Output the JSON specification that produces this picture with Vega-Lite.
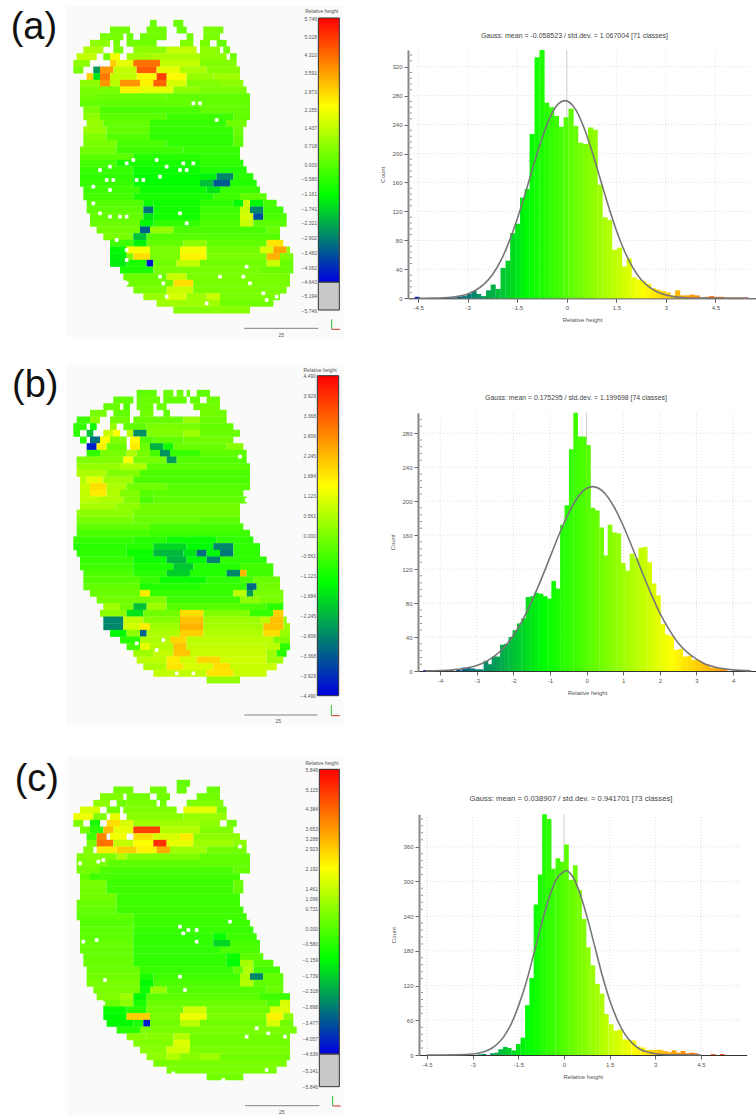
{"$schema":"https://vega.github.io/schema/vega-lite/v6.json","padding":0,"bounds":"flush","columns":2,"spacing":{"row":0,"column":63},"background":"white","config":{"view":{"stroke":null},"font":"Liberation Sans","axis":{"labelFontSize":6,"labelColor":"#555","titleFontSize":6,"titleFontWeight":"normal","titleColor":"#555","tickColor":"#666"}},
"datasets":{
"ma":[{"y":7,"a":45,"b":47,"v":0.3},{"y":7,"a":52,"b":55,"v":0.3},{"y":9,"a":33,"b":39,"v":0.4},{"y":9,"a":44,"b":50,"v":0.4},{"y":9,"a":53,"b":56,"v":0.3},{"y":9,"a":61,"b":67,"v":0.5},{"y":11,"a":30,"b":37,"v":0.5},{"y":11,"a":38,"b":40,"v":0.3},{"y":11,"a":42,"b":50,"v":0.4},{"y":11,"a":56,"b":58,"v":0.4},{"y":11,"a":61,"b":66,"v":0.5},{"y":13,"a":27,"b":33,"v":0.8},{"y":13,"a":34,"b":36,"v":0.4},{"y":13,"a":38,"b":47,"v":0.4},{"y":13,"a":54,"b":58,"v":0.6},{"y":13,"a":60,"b":63,"v":0.5},{"y":13,"a":65,"b":68,"v":0.3},{"y":15,"a":25,"b":31,"v":1.2},{"y":15,"a":34,"b":37,"v":0.5},{"y":15,"a":40,"b":50,"v":0.8},{"y":15,"a":50,"b":59,"v":1.5},{"y":15,"a":60,"b":66,"v":0.8},{"y":15,"a":67,"b":69,"v":0.4},{"y":17,"a":23,"b":29,"v":1.5},{"y":17,"a":31,"b":33,"v":0.4},{"y":17,"a":33,"b":36,"v":2.2},{"y":17,"a":38,"b":45,"v":1},{"y":17,"a":45,"b":60,"v":1.2},{"y":17,"a":60,"b":68,"v":0.8},{"y":17,"a":69,"b":71,"v":0.4},{"y":19,"a":22,"b":27,"v":0.8},{"y":19,"a":33,"b":35,"v":3},{"y":19,"a":35,"b":40,"v":2},{"y":19,"a":40,"b":48,"v":4.3},{"y":19,"a":48,"b":60,"v":1.5},{"y":19,"a":60,"b":71,"v":0.6},{"y":21,"a":22,"b":25,"v":0.5},{"y":21,"a":28,"b":30,"v":-2.5},{"y":21,"a":30,"b":34,"v":3.8},{"y":21,"a":34,"b":41,"v":1.5},{"y":21,"a":41,"b":47,"v":4.6},{"y":21,"a":47,"b":54,"v":2},{"y":21,"a":54,"b":62,"v":1.2},{"y":21,"a":62,"b":72,"v":0.7},{"y":23,"a":26,"b":28,"v":3},{"y":23,"a":28,"b":30,"v":-1.5},{"y":23,"a":30,"b":33,"v":4.2},{"y":23,"a":33,"b":41,"v":1.5},{"y":23,"a":41,"b":47,"v":2.4},{"y":23,"a":47,"b":50,"v":5},{"y":23,"a":50,"b":56,"v":2.4},{"y":23,"a":56,"b":64,"v":0.9},{"y":23,"a":64,"b":72,"v":1},{"y":25,"a":24,"b":30,"v":0.8},{"y":25,"a":30,"b":33,"v":3.8},{"y":25,"a":33,"b":36,"v":1.4},{"y":25,"a":36,"b":42,"v":3.8},{"y":25,"a":42,"b":46,"v":2.5},{"y":25,"a":46,"b":50,"v":4.5},{"y":25,"a":50,"b":56,"v":1.8},{"y":25,"a":56,"b":66,"v":0.6},{"y":25,"a":66,"b":73,"v":0.8},{"y":27,"a":24,"b":36,"v":0.5},{"y":27,"a":36,"b":42,"v":2.5},{"y":27,"a":42,"b":52,"v":2},{"y":27,"a":52,"b":60,"v":0.8},{"y":27,"a":60,"b":74,"v":0.5},{"y":29,"a":24,"b":30,"v":0.4},{"y":29,"a":30,"b":50,"v":0.3},{"y":29,"a":50,"b":75,"v":0.2},{"y":31,"a":24,"b":75,"v":0.2},{"y":33,"a":25,"b":30,"v":0.5},{"y":33,"a":30,"b":60,"v":-0.1},{"y":33,"a":60,"b":75,"v":0.2},{"y":35,"a":25,"b":30,"v":0.8},{"y":35,"a":30,"b":50,"v":0.1},{"y":35,"a":50,"b":70,"v":-0.3},{"y":35,"a":70,"b":75,"v":0.2},{"y":37,"a":26,"b":31,"v":0.9},{"y":37,"a":31,"b":45,"v":0.2},{"y":37,"a":45,"b":68,"v":-0.4},{"y":37,"a":68,"b":74,"v":0.4},{"y":39,"a":25,"b":32,"v":0.9},{"y":39,"a":32,"b":45,"v":0.2},{"y":39,"a":45,"b":70,"v":-0.4},{"y":39,"a":70,"b":73,"v":0.3},{"y":41,"a":25,"b":32,"v":0.6},{"y":41,"a":32,"b":45,"v":0},{"y":41,"a":45,"b":70,"v":-0.5},{"y":41,"a":70,"b":73,"v":0.2},{"y":43,"a":25,"b":35,"v":0.5},{"y":43,"a":35,"b":50,"v":-0.1},{"y":43,"a":50,"b":70,"v":-0.5},{"y":43,"a":70,"b":73,"v":0.1},{"y":45,"a":24,"b":35,"v":0.4},{"y":45,"a":35,"b":55,"v":-0.3},{"y":45,"a":55,"b":72,"v":-0.4},{"y":47,"a":24,"b":40,"v":0.1},{"y":47,"a":40,"b":60,"v":-0.6},{"y":47,"a":60,"b":72,"v":-0.5},{"y":49,"a":24,"b":35,"v":-0.2},{"y":49,"a":35,"b":60,"v":-0.8},{"y":49,"a":60,"b":73,"v":-0.5},{"y":51,"a":24,"b":40,"v":-0.4},{"y":51,"a":40,"b":60,"v":-1},{"y":51,"a":60,"b":74,"v":-0.7},{"y":53,"a":24,"b":40,"v":-0.5},{"y":53,"a":40,"b":60,"v":-1.1},{"y":53,"a":60,"b":65,"v":-1.3},{"y":53,"a":65,"b":70,"v":-2.8},{"y":53,"a":70,"b":76,"v":-0.6},{"y":55,"a":24,"b":40,"v":-0.4},{"y":55,"a":40,"b":60,"v":-1.1},{"y":55,"a":60,"b":64,"v":-2},{"y":55,"a":64,"b":69,"v":-3.4},{"y":55,"a":69,"b":77,"v":-0.7},{"y":57,"a":25,"b":42,"v":-0.3},{"y":57,"a":42,"b":62,"v":-1},{"y":57,"a":62,"b":66,"v":-1.5},{"y":57,"a":66,"b":78,"v":-0.4},{"y":59,"a":25,"b":40,"v":-0.2},{"y":59,"a":40,"b":64,"v":-0.8},{"y":59,"a":64,"b":72,"v":-0.3},{"y":59,"a":72,"b":80,"v":0.2},{"y":61,"a":26,"b":43,"v":0},{"y":61,"a":43,"b":46,"v":-1},{"y":61,"a":46,"b":60,"v":-0.9},{"y":61,"a":60,"b":70,"v":-0.5},{"y":61,"a":70,"b":73,"v":-1.2},{"y":61,"a":73,"b":75,"v":1.7},{"y":61,"a":75,"b":79,"v":-1.2},{"y":61,"a":79,"b":83,"v":-0.2},{"y":63,"a":26,"b":43,"v":0.1},{"y":63,"a":43,"b":46,"v":-3.1},{"y":63,"a":46,"b":60,"v":-0.9},{"y":63,"a":60,"b":72,"v":-0.3},{"y":63,"a":72,"b":75,"v":1.6},{"y":63,"a":75,"b":79,"v":-2.8},{"y":63,"a":79,"b":85,"v":-0.3},{"y":65,"a":27,"b":43,"v":0.2},{"y":65,"a":43,"b":46,"v":-1.5},{"y":65,"a":46,"b":60,"v":-0.9},{"y":65,"a":60,"b":72,"v":-0.2},{"y":65,"a":72,"b":76,"v":1.8},{"y":65,"a":76,"b":79,"v":-3.6},{"y":65,"a":79,"b":86,"v":-0.1},{"y":67,"a":27,"b":42,"v":0.3},{"y":67,"a":42,"b":46,"v":-1.2},{"y":67,"a":46,"b":60,"v":-0.5},{"y":67,"a":60,"b":72,"v":-0.1},{"y":67,"a":72,"b":76,"v":1.6},{"y":67,"a":76,"b":86,"v":0.1},{"y":69,"a":29,"b":42,"v":0.4},{"y":69,"a":42,"b":45,"v":-3.3},{"y":69,"a":45,"b":52,"v":0.9},{"y":69,"a":52,"b":80,"v":-0.1},{"y":69,"a":80,"b":84,"v":0.3},{"y":71,"a":31,"b":40,"v":0.5},{"y":71,"a":40,"b":44,"v":-2},{"y":71,"a":44,"b":84,"v":0},{"y":73,"a":33,"b":40,"v":-0.3},{"y":73,"a":40,"b":44,"v":-1.3},{"y":73,"a":44,"b":55,"v":0.2},{"y":73,"a":55,"b":62,"v":0.8},{"y":73,"a":62,"b":80,"v":0.2},{"y":73,"a":80,"b":85,"v":2.7},{"y":75,"a":33,"b":38,"v":-1.2},{"y":75,"a":38,"b":45,"v":2.2},{"y":75,"a":45,"b":54,"v":0.5},{"y":75,"a":54,"b":62,"v":2.2},{"y":75,"a":62,"b":78,"v":0.4},{"y":75,"a":78,"b":82,"v":1.8},{"y":75,"a":82,"b":86,"v":3.6},{"y":75,"a":86,"b":87,"v":0.8},{"y":77,"a":33,"b":38,"v":-1.3},{"y":77,"a":38,"b":40,"v":0.6},{"y":77,"a":40,"b":45,"v":2.8},{"y":77,"a":45,"b":54,"v":0.5},{"y":77,"a":54,"b":62,"v":2.5},{"y":77,"a":62,"b":80,"v":0.5},{"y":77,"a":80,"b":84,"v":3.4},{"y":77,"a":84,"b":88,"v":0.6},{"y":79,"a":33,"b":38,"v":-1.4},{"y":79,"a":38,"b":44,"v":-0.8},{"y":79,"a":44,"b":46,"v":-4.4},{"y":79,"a":46,"b":53,"v":0.4},{"y":79,"a":53,"b":60,"v":1.5},{"y":79,"a":60,"b":80,"v":0.4},{"y":79,"a":80,"b":84,"v":1.6},{"y":79,"a":84,"b":88,"v":0.3},{"y":81,"a":36,"b":46,"v":-0.8},{"y":81,"a":46,"b":78,"v":0.5},{"y":81,"a":78,"b":88,"v":0.3},{"y":83,"a":37,"b":50,"v":0.3},{"y":83,"a":50,"b":56,"v":1.6},{"y":83,"a":56,"b":87,"v":0.5},{"y":85,"a":38,"b":52,"v":0.4},{"y":85,"a":52,"b":58,"v":2.8},{"y":85,"a":58,"b":87,"v":0.5},{"y":87,"a":40,"b":50,"v":0.5},{"y":87,"a":50,"b":58,"v":1.6},{"y":87,"a":58,"b":86,"v":0.5},{"y":89,"a":43,"b":50,"v":0.9},{"y":89,"a":50,"b":56,"v":1.8},{"y":89,"a":56,"b":62,"v":1},{"y":89,"a":62,"b":66,"v":1.6},{"y":89,"a":66,"b":84,"v":0.5},{"y":91,"a":47,"b":66,"v":1},{"y":91,"a":66,"b":82,"v":0.4},{"y":93,"a":52,"b":75,"v":0.7}],
"ha":[{"x":-4.53,"n":2},{"x":-3.7,"n":1},{"x":-3.55,"n":1},{"x":-3.4,"n":1},{"x":-3.25,"n":2},{"x":-3.11,"n":3},{"x":-2.96,"n":6},{"x":-2.81,"n":10},{"x":-2.67,"n":6},{"x":-2.52,"n":3},{"x":-2.37,"n":11},{"x":-2.23,"n":19},{"x":-2.08,"n":13},{"x":-1.93,"n":42},{"x":-1.78,"n":52},{"x":-1.64,"n":90},{"x":-1.49,"n":103},{"x":-1.34,"n":139},{"x":-1.2,"n":151},{"x":-1.05,"n":227},{"x":-0.9,"n":333},{"x":-0.75,"n":343},{"x":-0.61,"n":270},{"x":-0.46,"n":264},{"x":-0.31,"n":252},{"x":-0.17,"n":237},{"x":-0.02,"n":250},{"x":0.13,"n":262},{"x":0.27,"n":238},{"x":0.42,"n":215},{"x":0.57,"n":213},{"x":0.72,"n":236},{"x":0.86,"n":233},{"x":1.01,"n":157},{"x":1.16,"n":112},{"x":1.3,"n":108},{"x":1.45,"n":67},{"x":1.6,"n":70},{"x":1.75,"n":44},{"x":1.89,"n":55},{"x":2.04,"n":29},{"x":2.19,"n":26},{"x":2.33,"n":24},{"x":2.48,"n":20},{"x":2.63,"n":14},{"x":2.77,"n":12},{"x":2.92,"n":10},{"x":3.07,"n":8},{"x":3.22,"n":4},{"x":3.36,"n":11},{"x":3.51,"n":4},{"x":3.66,"n":4},{"x":3.8,"n":5},{"x":3.95,"n":4},{"x":4.1,"n":1},{"x":4.25,"n":2},{"x":4.39,"n":3},{"x":4.54,"n":2},{"x":4.69,"n":2},{"x":4.83,"n":1},{"x":4.98,"n":1},{"x":5.13,"n":1},{"x":5.27,"n":1},{"x":5.42,"n":1}],
"ga":[{"x":-4.5,"n":0.05},{"x":-4,"n":0.3},{"x":-3.5,"n":1.5},{"x":-3,"n":6},{"x":-2.75,"n":11.4},{"x":-2.5,"n":20},{"x":-2.25,"n":33},{"x":-2,"n":52},{"x":-1.75,"n":78},{"x":-1.5,"n":110},{"x":-1.25,"n":146},{"x":-1,"n":185},{"x":-0.75,"n":221},{"x":-0.5,"n":251},{"x":-0.25,"n":269},{"x":-0.06,"n":273},{"x":0.25,"n":262},{"x":0.5,"n":238},{"x":0.75,"n":205},{"x":1,"n":167},{"x":1.25,"n":129},{"x":1.5,"n":94},{"x":1.75,"n":65},{"x":2,"n":42.5},{"x":2.25,"n":26},{"x":2.5,"n":15.4},{"x":2.75,"n":8.6},{"x":3,"n":4.5},{"x":3.5,"n":1},{"x":4,"n":0.2},{"x":5.5,"n":0}],
"hb":[{"x":-4.4,"n":1},{"x":-3.7,"n":1},{"x":-3.5,"n":2},{"x":-3.35,"n":4},{"x":-3.23,"n":3.5},{"x":-3.11,"n":3},{"x":-3,"n":2},{"x":-2.88,"n":2},{"x":-2.75,"n":12},{"x":-2.65,"n":8},{"x":-2.53,"n":17},{"x":-2.42,"n":17},{"x":-2.3,"n":31},{"x":-2.19,"n":32},{"x":-2.07,"n":40},{"x":-1.96,"n":48},{"x":-1.84,"n":56},{"x":-1.72,"n":62},{"x":-1.6,"n":87},{"x":-1.48,"n":88},{"x":-1.37,"n":92},{"x":-1.25,"n":91},{"x":-1.13,"n":88},{"x":-1.01,"n":85},{"x":-0.9,"n":106},{"x":-0.78,"n":97},{"x":-0.66,"n":172},{"x":-0.54,"n":195},{"x":-0.42,"n":261},{"x":-0.3,"n":304},{"x":-0.18,"n":276},{"x":-0.07,"n":276},{"x":0.05,"n":266},{"x":0.17,"n":192},{"x":0.29,"n":189},{"x":0.41,"n":169},{"x":0.52,"n":136},{"x":0.64,"n":172},{"x":0.76,"n":163},{"x":0.88,"n":162},{"x":1,"n":127},{"x":1.12,"n":118},{"x":1.24,"n":138},{"x":1.36,"n":133},{"x":1.48,"n":145},{"x":1.6,"n":146},{"x":1.72,"n":128},{"x":1.84,"n":103},{"x":1.96,"n":89},{"x":2.08,"n":55},{"x":2.2,"n":43},{"x":2.32,"n":41},{"x":2.45,"n":25},{"x":2.57,"n":26},{"x":2.69,"n":17},{"x":2.81,"n":18},{"x":2.93,"n":13},{"x":3.05,"n":13},{"x":3.17,"n":10},{"x":3.3,"n":8},{"x":3.42,"n":4},{"x":3.54,"n":4},{"x":3.66,"n":3},{"x":3.78,"n":2.5}],
"gb":[{"x":-4.4,"n":0.15},{"x":-4,"n":0.5},{"x":-3.5,"n":2},{"x":-3,"n":6.5},{"x":-2.75,"n":11},{"x":-2.5,"n":18},{"x":-2.25,"n":28},{"x":-2,"n":42},{"x":-1.75,"n":60},{"x":-1.5,"n":82},{"x":-1.25,"n":107},{"x":-1,"n":134},{"x":-0.75,"n":161},{"x":-0.5,"n":185},{"x":-0.25,"n":204},{"x":0,"n":215},{"x":0.175,"n":217},{"x":0.5,"n":209},{"x":0.75,"n":193},{"x":1,"n":171},{"x":1.25,"n":145},{"x":1.5,"n":118},{"x":1.75,"n":92},{"x":2,"n":68},{"x":2.25,"n":49},{"x":2.5,"n":33},{"x":2.75,"n":22},{"x":3,"n":14},{"x":3.25,"n":8},{"x":3.5,"n":4.7},{"x":3.75,"n":2.6},{"x":4,"n":1.3},{"x":4.49,"n":0.2}],
"hc":[{"x":-2.77,"n":1},{"x":-2.63,"n":2},{"x":-2.35,"n":3},{"x":-2.2,"n":4},{"x":-2.08,"n":10},{"x":-1.93,"n":14},{"x":-1.8,"n":12},{"x":-1.65,"n":8},{"x":-1.5,"n":19},{"x":-1.35,"n":30},{"x":-1.2,"n":86},{"x":-1.06,"n":133},{"x":-0.92,"n":260},{"x":-0.78,"n":312},{"x":-0.64,"n":416},{"x":-0.49,"n":408},{"x":-0.35,"n":322},{"x":-0.2,"n":340},{"x":-0.06,"n":334},{"x":0.08,"n":364},{"x":0.22,"n":303},{"x":0.37,"n":328},{"x":0.51,"n":285},{"x":0.66,"n":235},{"x":0.8,"n":186},{"x":0.95,"n":155},{"x":1.1,"n":123},{"x":1.25,"n":106},{"x":1.39,"n":71},{"x":1.55,"n":53},{"x":1.7,"n":42},{"x":1.85,"n":44},{"x":2,"n":27},{"x":2.14,"n":26},{"x":2.3,"n":25},{"x":2.44,"n":15},{"x":2.6,"n":13},{"x":2.75,"n":9},{"x":2.9,"n":9},{"x":3.04,"n":9},{"x":3.18,"n":9},{"x":3.33,"n":7},{"x":3.47,"n":5},{"x":3.62,"n":8},{"x":3.76,"n":4},{"x":3.91,"n":7},{"x":4.05,"n":3},{"x":4.2,"n":4},{"x":4.34,"n":3},{"x":4.9,"n":1.5},{"x":5.2,"n":1.5}],
"gc":[{"x":-4.5,"n":0},{"x":-3.5,"n":0.3},{"x":-3,"n":1.7},{"x":-2.75,"n":3.9},{"x":-2.5,"n":8.3},{"x":-2.25,"n":16.4},{"x":-2,"n":30},{"x":-1.75,"n":52},{"x":-1.5,"n":84},{"x":-1.25,"n":124},{"x":-1,"n":173},{"x":-0.75,"n":224},{"x":-0.5,"n":270},{"x":-0.25,"n":304},{"x":0,"n":317},{"x":0.06,"n":319},{"x":0.25,"n":311},{"x":0.5,"n":283},{"x":0.75,"n":240},{"x":1,"n":190},{"x":1.25,"n":139},{"x":1.5,"n":95},{"x":1.75,"n":61},{"x":2,"n":36},{"x":2.25,"n":20},{"x":2.5,"n":10},{"x":2.75,"n":5},{"x":3,"n":2.2},{"x":3.5,"n":0.4},{"x":4.5,"n":0}],
"mb":[{"y":10,"a":41,"b":47,"v":0.2},{"y":10,"a":49,"b":52,"v":0.3},{"y":10,"a":53,"b":55,"v":0.3},{"y":10,"a":56,"b":57,"v":0.2},{"y":10,"a":59,"b":63,"v":0.2},{"y":12,"a":34,"b":40,"v":0.2},{"y":12,"a":41,"b":48,"v":0.3},{"y":12,"a":49,"b":56,"v":0.2},{"y":12,"a":57,"b":60,"v":0.2},{"y":12,"a":62,"b":66,"v":0.3},{"y":14,"a":31,"b":36,"v":0.3},{"y":14,"a":37,"b":39,"v":0},{"y":14,"a":41,"b":46,"v":0.3},{"y":14,"a":47,"b":50,"v":0.3},{"y":14,"a":58,"b":60,"v":0.3},{"y":14,"a":60,"b":66,"v":0.4},{"y":16,"a":27,"b":32,"v":0.5},{"y":16,"a":34,"b":39,"v":0.2},{"y":16,"a":42,"b":46,"v":0.4},{"y":16,"a":49,"b":51,"v":0.2},{"y":16,"a":60,"b":68,"v":0.4},{"y":18,"a":23,"b":27,"v":-0.3},{"y":18,"a":27,"b":30,"v":0.8},{"y":18,"a":33,"b":39,"v":0.4},{"y":18,"a":40,"b":55,"v":0.3},{"y":18,"a":55,"b":60,"v":0.9},{"y":18,"a":60,"b":68,"v":0.3},{"y":20,"a":22,"b":26,"v":-0.4},{"y":20,"a":27,"b":29,"v":-1},{"y":20,"a":33,"b":35,"v":0.9},{"y":20,"a":37,"b":44,"v":0.2},{"y":20,"a":44,"b":60,"v":0.5},{"y":20,"a":60,"b":70,"v":0.2},{"y":22,"a":22,"b":24,"v":-0.5},{"y":22,"a":26,"b":28,"v":-2},{"y":22,"a":31,"b":34,"v":1.6},{"y":22,"a":34,"b":36,"v":2.3},{"y":22,"a":38,"b":40,"v":1.4},{"y":22,"a":40,"b":44,"v":-2.7},{"y":22,"a":44,"b":55,"v":0.6},{"y":22,"a":55,"b":60,"v":1},{"y":22,"a":60,"b":72,"v":0.3},{"y":24,"a":24,"b":26,"v":-0.5},{"y":24,"a":27,"b":30,"v":-3.1},{"y":24,"a":30,"b":33,"v":2.4},{"y":24,"a":33,"b":38,"v":0.6},{"y":24,"a":39,"b":42,"v":2.4},{"y":24,"a":42,"b":46,"v":0},{"y":24,"a":46,"b":55,"v":0.2},{"y":24,"a":55,"b":70,"v":0.4},{"y":26,"a":26,"b":29,"v":-4.3},{"y":26,"a":29,"b":32,"v":2.5},{"y":26,"a":32,"b":38,"v":0.3},{"y":26,"a":39,"b":42,"v":2.6},{"y":26,"a":42,"b":45,"v":0.3},{"y":26,"a":45,"b":49,"v":-2.2},{"y":26,"a":49,"b":52,"v":-1},{"y":26,"a":52,"b":68,"v":0.3},{"y":26,"a":68,"b":73,"v":0.7},{"y":28,"a":26,"b":30,"v":-0.5},{"y":28,"a":30,"b":38,"v":0.5},{"y":28,"a":38,"b":41,"v":1.2},{"y":28,"a":41,"b":45,"v":0.5},{"y":28,"a":45,"b":48,"v":-0.2},{"y":28,"a":48,"b":51,"v":-2.6},{"y":28,"a":51,"b":60,"v":-0.4},{"y":28,"a":60,"b":74,"v":0.1},{"y":30,"a":23,"b":37,"v":0.6},{"y":30,"a":37,"b":40,"v":2.3},{"y":30,"a":40,"b":50,"v":0.5},{"y":30,"a":50,"b":53,"v":-2.5},{"y":30,"a":53,"b":74,"v":0},{"y":32,"a":23,"b":36,"v":0.9},{"y":32,"a":36,"b":44,"v":1.2},{"y":32,"a":44,"b":75,"v":0.1},{"y":34,"a":23,"b":32,"v":1.2},{"y":34,"a":32,"b":42,"v":0.6},{"y":34,"a":42,"b":75,"v":-0.1},{"y":36,"a":24,"b":26,"v":1.4},{"y":36,"a":26,"b":31,"v":2},{"y":36,"a":31,"b":40,"v":1},{"y":36,"a":40,"b":75,"v":-0.1},{"y":38,"a":24,"b":27,"v":1.6},{"y":38,"a":27,"b":32,"v":2.8},{"y":38,"a":32,"b":38,"v":1.2},{"y":38,"a":38,"b":50,"v":0.4},{"y":38,"a":50,"b":75,"v":0},{"y":40,"a":24,"b":27,"v":1.5},{"y":40,"a":27,"b":32,"v":2.6},{"y":40,"a":32,"b":36,"v":1.3},{"y":40,"a":36,"b":42,"v":0.6},{"y":40,"a":42,"b":46,"v":0},{"y":40,"a":46,"b":73,"v":0.1},{"y":42,"a":24,"b":30,"v":1.4},{"y":42,"a":30,"b":37,"v":1.2},{"y":42,"a":37,"b":42,"v":0.6},{"y":42,"a":42,"b":46,"v":-0.1},{"y":42,"a":46,"b":74,"v":0.2},{"y":44,"a":24,"b":35,"v":1.1},{"y":44,"a":35,"b":42,"v":0.8},{"y":44,"a":42,"b":72,"v":0.4},{"y":46,"a":23,"b":40,"v":0.8},{"y":46,"a":40,"b":72,"v":0.4},{"y":48,"a":23,"b":40,"v":0.5},{"y":48,"a":40,"b":60,"v":0.3},{"y":48,"a":60,"b":72,"v":0.1},{"y":50,"a":23,"b":45,"v":0.2},{"y":50,"a":45,"b":73,"v":-0.1},{"y":52,"a":23,"b":45,"v":-0.1},{"y":52,"a":45,"b":75,"v":-0.3},{"y":54,"a":22,"b":40,"v":-0.4},{"y":54,"a":40,"b":50,"v":-0.6},{"y":54,"a":50,"b":65,"v":-1},{"y":54,"a":65,"b":76,"v":-0.5},{"y":56,"a":22,"b":38,"v":-0.6},{"y":56,"a":38,"b":46,"v":-0.7},{"y":56,"a":46,"b":56,"v":-1.7},{"y":56,"a":56,"b":64,"v":-1.2},{"y":56,"a":64,"b":70,"v":-2.8},{"y":56,"a":70,"b":78,"v":-0.5},{"y":58,"a":23,"b":38,"v":-0.5},{"y":58,"a":38,"b":46,"v":-1},{"y":58,"a":46,"b":55,"v":-2.1},{"y":58,"a":55,"b":59,"v":-1.5},{"y":58,"a":59,"b":62,"v":-3.1},{"y":58,"a":62,"b":66,"v":-1.2},{"y":58,"a":66,"b":70,"v":-3},{"y":58,"a":70,"b":78,"v":-0.5},{"y":60,"a":24,"b":40,"v":-0.4},{"y":60,"a":40,"b":50,"v":-1},{"y":60,"a":50,"b":56,"v":-2.2},{"y":60,"a":56,"b":62,"v":-1.2},{"y":60,"a":62,"b":66,"v":-2.8},{"y":60,"a":66,"b":80,"v":-0.5},{"y":62,"a":24,"b":40,"v":-0.3},{"y":62,"a":40,"b":52,"v":-0.8},{"y":62,"a":52,"b":58,"v":-1.9},{"y":62,"a":58,"b":72,"v":-0.7},{"y":62,"a":72,"b":82,"v":-0.2},{"y":64,"a":25,"b":40,"v":-0.1},{"y":64,"a":40,"b":50,"v":-0.6},{"y":64,"a":50,"b":57,"v":-1.8},{"y":64,"a":57,"b":68,"v":-0.7},{"y":64,"a":68,"b":72,"v":-2.8},{"y":64,"a":72,"b":74,"v":3.3},{"y":64,"a":74,"b":82,"v":-0.3},{"y":66,"a":25,"b":42,"v":0},{"y":66,"a":42,"b":48,"v":-0.4},{"y":66,"a":48,"b":62,"v":-1},{"y":66,"a":62,"b":72,"v":-0.5},{"y":66,"a":72,"b":76,"v":-0.2},{"y":66,"a":76,"b":84,"v":0.3},{"y":68,"a":25,"b":42,"v":0.2},{"y":68,"a":42,"b":45,"v":-0.8},{"y":68,"a":45,"b":60,"v":-0.7},{"y":68,"a":60,"b":72,"v":-0.4},{"y":68,"a":72,"b":74,"v":-0.5},{"y":68,"a":74,"b":77,"v":-3.2},{"y":68,"a":77,"b":84,"v":0.4},{"y":70,"a":27,"b":42,"v":0.3},{"y":70,"a":42,"b":45,"v":2.6},{"y":70,"a":45,"b":70,"v":-0.4},{"y":70,"a":70,"b":74,"v":1.4},{"y":70,"a":74,"b":76,"v":-2.5},{"y":70,"a":76,"b":85,"v":0.5},{"y":72,"a":29,"b":42,"v":0.4},{"y":72,"a":42,"b":45,"v":0.4},{"y":72,"a":45,"b":50,"v":0.6},{"y":72,"a":50,"b":72,"v":-0.3},{"y":72,"a":72,"b":78,"v":0.8},{"y":72,"a":78,"b":85,"v":0.5},{"y":74,"a":31,"b":36,"v":1},{"y":74,"a":36,"b":40,"v":0.4},{"y":74,"a":40,"b":44,"v":-2},{"y":74,"a":44,"b":50,"v":1},{"y":74,"a":50,"b":72,"v":0},{"y":74,"a":72,"b":80,"v":-0.1},{"y":74,"a":80,"b":85,"v":-0.6},{"y":76,"a":30,"b":38,"v":0.8},{"y":76,"a":38,"b":43,"v":-1.5},{"y":76,"a":43,"b":54,"v":0.4},{"y":76,"a":54,"b":61,"v":2.8},{"y":76,"a":61,"b":75,"v":0.6},{"y":76,"a":75,"b":82,"v":-0.4},{"y":76,"a":82,"b":85,"v":3},{"y":78,"a":31,"b":37,"v":-2.8},{"y":78,"a":37,"b":43,"v":1.5},{"y":78,"a":43,"b":54,"v":0.7},{"y":78,"a":54,"b":61,"v":3.2},{"y":78,"a":61,"b":78,"v":1},{"y":78,"a":78,"b":81,"v":1.4},{"y":78,"a":81,"b":85,"v":3.2},{"y":78,"a":85,"b":86,"v":0.9},{"y":80,"a":31,"b":37,"v":-2.8},{"y":80,"a":37,"b":42,"v":1.7},{"y":80,"a":42,"b":45,"v":2.6},{"y":80,"a":45,"b":54,"v":1},{"y":80,"a":54,"b":61,"v":3.4},{"y":80,"a":61,"b":79,"v":1.1},{"y":80,"a":79,"b":85,"v":3.2},{"y":80,"a":85,"b":87,"v":1},{"y":82,"a":33,"b":38,"v":-1.2},{"y":82,"a":38,"b":42,"v":0.8},{"y":82,"a":42,"b":44,"v":-3.3},{"y":82,"a":44,"b":54,"v":1.2},{"y":82,"a":54,"b":61,"v":3},{"y":82,"a":61,"b":79,"v":1.3},{"y":82,"a":79,"b":84,"v":2.8},{"y":82,"a":84,"b":87,"v":0.9},{"y":84,"a":36,"b":42,"v":-0.6},{"y":84,"a":42,"b":51,"v":1.2},{"y":84,"a":51,"b":56,"v":2.9},{"y":84,"a":56,"b":82,"v":1.4},{"y":84,"a":82,"b":87,"v":0.6},{"y":86,"a":38,"b":42,"v":-0.2},{"y":86,"a":42,"b":45,"v":2},{"y":86,"a":45,"b":52,"v":1.3},{"y":86,"a":52,"b":56,"v":3.2},{"y":86,"a":56,"b":80,"v":1.5},{"y":86,"a":80,"b":84,"v":1.4},{"y":86,"a":84,"b":87,"v":-0.5},{"y":88,"a":40,"b":46,"v":1},{"y":88,"a":46,"b":52,"v":1.5},{"y":88,"a":52,"b":57,"v":3.1},{"y":88,"a":57,"b":80,"v":1.6},{"y":88,"a":80,"b":83,"v":1},{"y":88,"a":83,"b":86,"v":-0.6},{"y":90,"a":41,"b":50,"v":1.4},{"y":90,"a":50,"b":54,"v":2.6},{"y":90,"a":54,"b":59,"v":1.7},{"y":90,"a":59,"b":66,"v":2.9},{"y":90,"a":66,"b":80,"v":1.7},{"y":90,"a":80,"b":85,"v":1},{"y":92,"a":43,"b":50,"v":1.2},{"y":92,"a":50,"b":55,"v":2.7},{"y":92,"a":55,"b":64,"v":1.8},{"y":92,"a":64,"b":69,"v":2.8},{"y":92,"a":69,"b":83,"v":1.6},{"y":94,"a":46,"b":62,"v":1.5},{"y":94,"a":62,"b":70,"v":2.7},{"y":94,"a":70,"b":80,"v":1.6},{"y":96,"a":62,"b":72,"v":0.9}],
"mc":[{"y":10,"a":53,"b":57,"v":0.2},{"y":12,"a":34,"b":40,"v":0.4},{"y":12,"a":45,"b":50,"v":0.4},{"y":12,"a":53,"b":56,"v":0.3},{"y":12,"a":62,"b":66,"v":0.3},{"y":14,"a":30,"b":37,"v":0.6},{"y":14,"a":38,"b":45,"v":0.4},{"y":14,"a":47,"b":51,"v":0.4},{"y":14,"a":59,"b":66,"v":0.4},{"y":16,"a":28,"b":33,"v":0.8},{"y":16,"a":35,"b":38,"v":0.4},{"y":16,"a":38,"b":47,"v":0.5},{"y":16,"a":48,"b":50,"v":0.4},{"y":16,"a":56,"b":67,"v":0.6},{"y":18,"a":24,"b":30,"v":1.8},{"y":18,"a":32,"b":36,"v":0.4},{"y":18,"a":37,"b":53,"v":0.6},{"y":18,"a":55,"b":65,"v":2},{"y":18,"a":65,"b":68,"v":0.5},{"y":20,"a":22,"b":28,"v":2.1},{"y":20,"a":28,"b":32,"v":0.6},{"y":20,"a":33,"b":36,"v":2},{"y":20,"a":38,"b":55,"v":0.7},{"y":20,"a":55,"b":68,"v":0.9},{"y":22,"a":22,"b":25,"v":0.6},{"y":22,"a":27,"b":30,"v":-0.8},{"y":22,"a":32,"b":36,"v":2.8},{"y":22,"a":36,"b":40,"v":1.8},{"y":22,"a":40,"b":60,"v":1},{"y":22,"a":60,"b":66,"v":0.8},{"y":22,"a":68,"b":71,"v":0.4},{"y":24,"a":24,"b":27,"v":0.5},{"y":24,"a":27,"b":31,"v":-0.5},{"y":24,"a":31,"b":34,"v":3.3},{"y":24,"a":34,"b":40,"v":2},{"y":24,"a":40,"b":48,"v":5},{"y":24,"a":48,"b":60,"v":1.3},{"y":24,"a":60,"b":70,"v":0.6},{"y":26,"a":26,"b":29,"v":-0.3},{"y":26,"a":29,"b":32,"v":4},{"y":26,"a":33,"b":38,"v":2.2},{"y":26,"a":40,"b":46,"v":2.8},{"y":26,"a":46,"b":54,"v":1.8},{"y":26,"a":54,"b":58,"v":2.6},{"y":26,"a":58,"b":72,"v":0.8},{"y":28,"a":26,"b":29,"v":0.5},{"y":28,"a":29,"b":34,"v":4.3},{"y":28,"a":34,"b":40,"v":1.5},{"y":28,"a":40,"b":46,"v":2.3},{"y":28,"a":46,"b":50,"v":5.2},{"y":28,"a":50,"b":58,"v":2},{"y":28,"a":58,"b":70,"v":1},{"y":28,"a":70,"b":74,"v":0.8},{"y":30,"a":25,"b":28,"v":0.6},{"y":30,"a":29,"b":35,"v":2.6},{"y":30,"a":35,"b":41,"v":3},{"y":30,"a":41,"b":47,"v":2.5},{"y":30,"a":47,"b":51,"v":3.5},{"y":30,"a":51,"b":62,"v":1},{"y":30,"a":62,"b":74,"v":0.4},{"y":32,"a":23,"b":35,"v":0.6},{"y":32,"a":35,"b":38,"v":1.2},{"y":32,"a":38,"b":60,"v":0.6},{"y":32,"a":60,"b":75,"v":0.2},{"y":34,"a":23,"b":32,"v":0.5},{"y":34,"a":32,"b":60,"v":0.1},{"y":34,"a":60,"b":75,"v":0.2},{"y":36,"a":23,"b":30,"v":0.4},{"y":36,"a":30,"b":70,"v":-0.1},{"y":36,"a":70,"b":75,"v":0.2},{"y":38,"a":24,"b":27,"v":0.2},{"y":38,"a":27,"b":30,"v":-0.3},{"y":38,"a":30,"b":72,"v":-0.2},{"y":40,"a":24,"b":32,"v":0.5},{"y":40,"a":32,"b":70,"v":-0.3},{"y":40,"a":70,"b":73,"v":0.3},{"y":42,"a":24,"b":32,"v":0.4},{"y":42,"a":32,"b":70,"v":-0.3},{"y":42,"a":70,"b":73,"v":0.2},{"y":44,"a":24,"b":35,"v":0.4},{"y":44,"a":35,"b":72,"v":-0.3},{"y":46,"a":23,"b":35,"v":0.3},{"y":46,"a":35,"b":72,"v":-0.3},{"y":48,"a":23,"b":35,"v":0.2},{"y":48,"a":35,"b":73,"v":-0.3},{"y":50,"a":23,"b":40,"v":0.1},{"y":50,"a":40,"b":74,"v":-0.3},{"y":52,"a":24,"b":40,"v":0},{"y":52,"a":40,"b":75,"v":-0.3},{"y":54,"a":24,"b":40,"v":0.1},{"y":54,"a":40,"b":76,"v":-0.4},{"y":56,"a":24,"b":40,"v":0.1},{"y":56,"a":40,"b":64,"v":-0.5},{"y":56,"a":64,"b":68,"v":-1.1},{"y":56,"a":68,"b":77,"v":-0.3},{"y":58,"a":24,"b":40,"v":0.2},{"y":58,"a":40,"b":64,"v":-0.5},{"y":58,"a":64,"b":69,"v":-1.7},{"y":58,"a":69,"b":78,"v":-0.2},{"y":60,"a":24,"b":40,"v":0.2},{"y":60,"a":40,"b":66,"v":-0.5},{"y":60,"a":66,"b":78,"v":-0.1},{"y":62,"a":25,"b":40,"v":0.2},{"y":62,"a":40,"b":68,"v":-0.5},{"y":62,"a":68,"b":72,"v":-1},{"y":62,"a":72,"b":79,"v":0.1},{"y":64,"a":25,"b":40,"v":0.3},{"y":64,"a":40,"b":68,"v":-0.5},{"y":64,"a":68,"b":72,"v":-1.2},{"y":64,"a":72,"b":76,"v":1.1},{"y":64,"a":76,"b":82,"v":0},{"y":66,"a":26,"b":42,"v":0.3},{"y":66,"a":42,"b":70,"v":-0.4},{"y":66,"a":70,"b":73,"v":0.2},{"y":66,"a":73,"b":76,"v":1.3},{"y":66,"a":76,"b":84,"v":-0.2},{"y":68,"a":26,"b":42,"v":0.4},{"y":68,"a":42,"b":46,"v":-0.8},{"y":68,"a":46,"b":72,"v":-0.3},{"y":68,"a":72,"b":75,"v":1.2},{"y":68,"a":75,"b":79,"v":-2.8},{"y":68,"a":79,"b":85,"v":0.2},{"y":70,"a":26,"b":42,"v":0.5},{"y":70,"a":42,"b":46,"v":-1.2},{"y":70,"a":46,"b":72,"v":-0.1},{"y":70,"a":72,"b":76,"v":1.3},{"y":70,"a":76,"b":85,"v":0.2},{"y":72,"a":28,"b":42,"v":0.5},{"y":72,"a":42,"b":45,"v":-1},{"y":72,"a":45,"b":50,"v":0.9},{"y":72,"a":50,"b":80,"v":0},{"y":72,"a":80,"b":85,"v":0.3},{"y":74,"a":29,"b":36,"v":0.6},{"y":74,"a":36,"b":40,"v":1},{"y":74,"a":40,"b":44,"v":-1.2},{"y":74,"a":44,"b":78,"v":0.1},{"y":74,"a":78,"b":87,"v":-0.3},{"y":76,"a":31,"b":36,"v":0.3},{"y":76,"a":36,"b":40,"v":0.8},{"y":76,"a":40,"b":44,"v":-0.8},{"y":76,"a":44,"b":80,"v":0.3},{"y":76,"a":80,"b":84,"v":0},{"y":76,"a":84,"b":87,"v":1.8},{"y":78,"a":31,"b":38,"v":-1.1},{"y":78,"a":38,"b":44,"v":-0.6},{"y":78,"a":44,"b":55,"v":0.4},{"y":78,"a":55,"b":62,"v":1.7},{"y":78,"a":62,"b":81,"v":0.4},{"y":78,"a":81,"b":87,"v":1.9},{"y":80,"a":31,"b":38,"v":-1.2},{"y":80,"a":38,"b":45,"v":3},{"y":80,"a":45,"b":54,"v":0.5},{"y":80,"a":54,"b":62,"v":2.1},{"y":80,"a":62,"b":80,"v":0.5},{"y":80,"a":80,"b":85,"v":2.5},{"y":80,"a":85,"b":88,"v":0.8},{"y":82,"a":32,"b":40,"v":-1.2},{"y":82,"a":40,"b":43,"v":-0.8},{"y":82,"a":43,"b":45,"v":-4.3},{"y":82,"a":45,"b":54,"v":0.4},{"y":82,"a":54,"b":60,"v":1.4},{"y":82,"a":60,"b":80,"v":0.4},{"y":82,"a":80,"b":84,"v":1.8},{"y":82,"a":84,"b":88,"v":0.4},{"y":84,"a":35,"b":42,"v":-0.6},{"y":84,"a":42,"b":89,"v":0.5},{"y":86,"a":38,"b":44,"v":0.7},{"y":86,"a":44,"b":52,"v":0.7},{"y":86,"a":52,"b":57,"v":1.3},{"y":86,"a":57,"b":87,"v":0.4},{"y":88,"a":40,"b":52,"v":0.6},{"y":88,"a":52,"b":57,"v":1.9},{"y":88,"a":57,"b":87,"v":0.4},{"y":90,"a":42,"b":50,"v":0.7},{"y":90,"a":50,"b":57,"v":1.7},{"y":90,"a":57,"b":87,"v":0.5},{"y":92,"a":44,"b":50,"v":0.8},{"y":92,"a":50,"b":54,"v":1.3},{"y":92,"a":54,"b":60,"v":0.7},{"y":92,"a":60,"b":66,"v":1},{"y":92,"a":66,"b":87,"v":0.4},{"y":94,"a":46,"b":86,"v":0.5},{"y":96,"a":50,"b":83,"v":0.5},{"y":98,"a":62,"b":73,"v":0.4}],
"holesa":[{"x":58,"y":31},{"x":60,"y":31},{"x":65,"y":36},{"x":40,"y":48},{"x":38,"y":49},{"x":47,"y":48},{"x":50,"y":50},{"x":55,"y":49},{"x":58,"y":49},{"x":33,"y":50},{"x":30,"y":51},{"x":54,"y":51},{"x":56,"y":51},{"x":32,"y":54},{"x":34,"y":54},{"x":41,"y":54},{"x":43,"y":54},{"x":48,"y":53},{"x":28,"y":56},{"x":33,"y":57},{"x":28,"y":61},{"x":30,"y":64},{"x":33,"y":65},{"x":36,"y":65},{"x":38,"y":65},{"x":54,"y":64},{"x":56,"y":67},{"x":35,"y":72},{"x":38,"y":75},{"x":38,"y":78},{"x":48,"y":83},{"x":49,"y":85},{"x":38,"y":85},{"x":74,"y":80},{"x":75,"y":85},{"x":66,"y":83},{"x":73,"y":83},{"x":83,"y":89},{"x":79,"y":88},{"x":50,"y":89},{"x":80,"y":90},{"x":62,"y":91}],
"holesb":[{"x":49,"y":84},{"x":41,"y":85},{"x":47,"y":87},{"x":58,"y":94},{"x":53,"y":94},{"x":74,"y":42},{"x":72,"y":29}],
"holesc":[{"x":54,"y":53},{"x":55,"y":55},{"x":56.5,"y":54},{"x":59,"y":54},{"x":59,"y":57.5},{"x":69,"y":51.5},{"x":25,"y":57.5},{"x":29,"y":57},{"x":31.5,"y":69},{"x":54,"y":68},{"x":55.5,"y":72},{"x":31,"y":76},{"x":77,"y":83.5},{"x":74,"y":86},{"x":80.5,"y":85},{"x":85.5,"y":86},{"x":80,"y":96},{"x":52,"y":97},{"x":67,"y":99},{"x":72,"y":29},{"x":31,"y":33},{"x":29.5,"y":33.5},{"x":24,"y":34}],
"mina":[{"g":8},{"g":16},{"g":24},{"g":32},{"g":48},{"g":56},{"g":64},{"g":72},{"g":88},{"g":96},{"g":104},{"g":112},{"g":128},{"g":136},{"g":144},{"g":152},{"g":168},{"g":176},{"g":184},{"g":192},{"g":208},{"g":216},{"g":224},{"g":232},{"g":248},{"g":256},{"g":264},{"g":272},{"g":288},{"g":296},{"g":304},{"g":312},{"g":328},{"g":336}],
"minb":[{"g":8},{"g":16},{"g":24},{"g":32},{"g":48},{"g":56},{"g":64},{"g":72},{"g":88},{"g":96},{"g":104},{"g":112},{"g":128},{"g":136},{"g":144},{"g":152},{"g":168},{"g":176},{"g":184},{"g":192},{"g":208},{"g":216},{"g":224},{"g":232},{"g":248},{"g":256},{"g":264},{"g":272},{"g":288},{"g":296}],
"minc":[{"g":12},{"g":24},{"g":36},{"g":48},{"g":72},{"g":84},{"g":96},{"g":108},{"g":132},{"g":144},{"g":156},{"g":168},{"g":192},{"g":204},{"g":216},{"g":228},{"g":252},{"g":264},{"g":276},{"g":288},{"g":312},{"g":324},{"g":336},{"g":348},{"g":372},{"g":384},{"g":396},{"g":408}]
},
"concat":[
{"width":345,"height":360,"resolve":{"scale":{"y":"independent"}},"layer":[
{"layer":[
{"data":{"values":[{"a":19.8,"b":103,"y":1.8,"y2":101.2}]},"mark":{"type":"rect","color":"#fafafa"},"encoding":{"x":{"field":"a","type":"quantitative","scale":{"domain":[0,103.5],"nice":false},"axis":null},"x2":{"field":"b"},"y":{"field":"y","type":"quantitative","scale":{"domain":[0,108],"reverse":true,"nice":false},"axis":null},"y2":{"field":"y2"}}},
{"data":{"name":"ma"},"mark":{"type":"rect","height":7},"encoding":{"x":{"field":"a","type":"quantitative"},"x2":{"field":"b"},"y":{"field":"y","type":"quantitative"},"color":{"field":"v","type":"quantitative","legend":null,"scale":{"interpolate":"rgb","domain":[-4.643,-1.2,2.3,5.746],"range":["#0000e0","#00ff00","#ffff00","#ff0000"]}}}},
{"data":{"name":"holesa"},"mark":{"type":"square","size":13,"color":"#ffffff","opacity":1},"encoding":{"x":{"field":"x","type":"quantitative"},"y":{"field":"y","type":"quantitative"}}},
{"data":{"values":[{"a":73.3,"b":95.5,"y":98.5}]},"mark":{"type":"rule","color":"#666","strokeWidth":0.8},"encoding":{"x":{"field":"a","type":"quantitative"},"x2":{"field":"b"},"y":{"field":"y","type":"quantitative"}}},
{"data":{"values":[{"a":99.5,"y":95.8,"y2":98.8}]},"mark":{"type":"rule","color":"#33bb33","strokeWidth":1},"encoding":{"x":{"field":"a","type":"quantitative"},"y":{"field":"y","type":"quantitative"},"y2":{"field":"y2"}}},
{"data":{"values":[{"a":99.5,"b":102,"y":98.8}]},"mark":{"type":"rule","color":"#dd3333","strokeWidth":1},"encoding":{"x":{"field":"a","type":"quantitative"},"x2":{"field":"b"},"y":{"field":"y","type":"quantitative"}}},
{"data":{"values":[{"x":84.4,"y":100.5,"t":"25"},{"x":96.5,"y":3.2,"t":"Relative height"}]},"mark":{"type":"text","fontSize":5,"color":"#555"},"encoding":{"x":{"field":"x","type":"quantitative"},"y":{"field":"y","type":"quantitative"},"text":{"field":"t"}}},
{"data":{"values":[{"x":3.2,"y":11.8,"t":"(a)"}]},"mark":{"type":"text","fontSize":38,"align":"left","baseline":"alphabetic","color":"#111","font":"Liberation Sans"},"encoding":{"x":{"field":"x","type":"quantitative"},"y":{"field":"y","type":"quantitative"},"text":{"field":"t"}}},
{"data":{"values":[{"a":95.5,"b":101.8,"y":84.6,"y2":93}]},"mark":{"type":"rect","stroke":"#333","strokeWidth":1,"fill":"#c8c8c8"},"encoding":{"x":{"field":"a","type":"quantitative"},"x2":{"field":"b"},"y":{"field":"y","type":"quantitative"},"y2":{"field":"y2"}}}
]},
{"data":{"values":[{"a":95.5,"b":101.8,"lo":-4.643,"hi":5.746}]},"mark":{"type":"rect","stroke":"#333","strokeWidth":1,"fill":{"gradient":"linear","x1":0,"y1":0,"x2":0,"y2":1,"stops":[{"offset":0,"color":"#ff0000"},{"offset":0.333,"color":"#ffff00"},{"offset":0.669,"color":"#00ff00"},{"offset":1,"color":"#0000e0"}]}},"encoding":{"x":{"field":"a","type":"quantitative"},"x2":{"field":"b"},"y":{"field":"lo","type":"quantitative","scale":{"domain":[-5.746,5.746],"nice":false,"range":[310,18]},"axis":{"orient":"left","offset":-318,"zindex":1,"domain":false,"ticks":false,"grid":false,"title":null,"labelFontSize":5,"labelPadding":1.5,"labelOverlap":false,"format":".3f","values":[5.746,5.028,4.31,3.591,2.873,2.155,1.437,0.718,0,-0.58,-1.161,-1.741,-2.321,-2.902,-3.482,-4.062,-4.643,-5.194,-5.746]}},"y2":{"field":"hi"}}}
]},
{"width":348,"height":360,"layer":[
{"data":{"values":[{"g":-4.5,"p":0,"q":343},{"g":-3,"p":0,"q":343},{"g":-1.5,"p":0,"q":343},{"g":1.5,"p":0,"q":343},{"g":3,"p":0,"q":343},{"g":4.5,"p":0,"q":343}]},"mark":{"type":"rule","color":"#dedede","strokeDash":[1,2]},"encoding":{"x":{"field":"g","type":"quantitative","scale":{"domain":[-4.66,5.58],"nice":false,"range":[0,348]},"title":"Relative height","axis":{"offset":-61.7,"grid":false,"labelOverlap":false,"values":[-4.5,-3.75,-3,-2.25,-1.5,-0.75,0,0.75,1.5,2.25,3,3.75,4.5,5.25],"labelExpr":"abs(datum.value/1.5-round(datum.value/1.5))<0.01?''+datum.value:''","tickSize":{"condition":{"test":"abs(datum.value/1.5-round(datum.value/1.5))<0.01","value":4},"value":2},"domainColor":"#333","domainWidth":1,"labelPadding":2,"titlePadding":6}},"y":{"field":"p","type":"quantitative","scale":{"domain":[0,343],"nice":false,"range":[298.3,50]},"title":"Count","axis":{"grid":false,"values":[0,40,80,120,160,200,240,280,320],"tickSize":4,"domainColor":"#888","domainWidth":2,"labelPadding":2,"titlePadding":6}},"y2":{"field":"q"}}},
{"data":{"values":[{"g":40,"p":-4.66,"q":5.58},{"g":80,"p":-4.66,"q":5.58},{"g":120,"p":-4.66,"q":5.58},{"g":160,"p":-4.66,"q":5.58},{"g":200,"p":-4.66,"q":5.58},{"g":240,"p":-4.66,"q":5.58},{"g":280,"p":-4.66,"q":5.58},{"g":320,"p":-4.66,"q":5.58}]},"mark":{"type":"rule","color":"#dedede","strokeDash":[1,2]},"encoding":{"y":{"field":"g","type":"quantitative"},"x":{"field":"p","type":"quantitative"},"x2":{"field":"q"}}},
{"data":{"name":"mina"},"mark":{"type":"tick","orient":"horizontal","color":"#666","size":2,"thickness":1,"xOffset":-2},"encoding":{"y":{"field":"g","type":"quantitative"},"x":{"datum":-4.66,"type":"quantitative"}}},
{"data":{"values":[{"g":0,"p":0,"q":343}]},"mark":{"type":"rule","color":"#ccc"},"encoding":{"x":{"field":"g","type":"quantitative"},"y":{"field":"p","type":"quantitative"},"y2":{"field":"q"}}},
{"data":{"name":"ha"},"mark":{"type":"bar","width":5.1},"encoding":{"x":{"field":"x","type":"quantitative"},"y":{"field":"n","type":"quantitative"},"color":{"field":"x","type":"quantitative","legend":null,"scale":{"interpolate":"rgb","domain":[-4.643,-1.2,2.3,5.746],"range":["#0000e0","#00ff00","#ffff00","#ff0000"]}}}},
{"data":{"name":"ga"},"mark":{"type":"line","color":"#777","strokeWidth":1.6,"interpolate":"monotone"},"encoding":{"x":{"field":"x","type":"quantitative"},"y":{"field":"n","type":"quantitative"}}},
{"data":{"values":[{"x":0.23,"n":362.7,"t":"Gauss: mean = -0.058523 / std.dev. = 1.067004 [71 classes]"}]},"mark":{"type":"text","fontSize":7,"color":"#444"},"encoding":{"x":{"field":"x","type":"quantitative"},"y":{"field":"n","type":"quantitative"},"text":{"field":"t"}}}
]},
{"width":345,"height":390,"resolve":{"scale":{"y":"independent"}},"layer":[
{"layer":[
{"data":{"values":[{"a":19.8,"b":103,"y":1.2,"y2":109.5}]},"mark":{"type":"rect","color":"#fafafa"},"encoding":{"x":{"field":"a","type":"quantitative","scale":{"domain":[0,103.5],"nice":false},"axis":null},"x2":{"field":"b"},"y":{"field":"y","type":"quantitative","scale":{"domain":[0,117],"reverse":true,"nice":false},"axis":null},"y2":{"field":"y2"}}},
{"data":{"name":"mb"},"mark":{"type":"rect","height":7},"encoding":{"x":{"field":"a","type":"quantitative"},"x2":{"field":"b"},"y":{"field":"y","type":"quantitative"},"color":{"field":"v","type":"quantitative","legend":null,"scale":{"interpolate":"rgb","domain":[-4.49,-1.3,1.4,4.49],"range":["#0000e0","#00ff00","#ffff00","#ff0000"]}}}},
{"data":{"name":"holesb"},"mark":{"type":"square","size":13,"color":"#ffffff","opacity":1},"encoding":{"x":{"field":"x","type":"quantitative"},"y":{"field":"y","type":"quantitative"}}},
{"data":{"values":[{"a":73.3,"b":95.3,"y":106.5}]},"mark":{"type":"rule","color":"#666","strokeWidth":0.8},"encoding":{"x":{"field":"a","type":"quantitative"},"x2":{"field":"b"},"y":{"field":"y","type":"quantitative"}}},
{"data":{"values":[{"a":99.4,"y":103.5,"y2":106.7}]},"mark":{"type":"rule","color":"#33bb33","strokeWidth":1},"encoding":{"x":{"field":"a","type":"quantitative"},"y":{"field":"y","type":"quantitative"},"y2":{"field":"y2"}}},
{"data":{"values":[{"a":99.4,"b":102,"y":106.7}]},"mark":{"type":"rule","color":"#dd3333","strokeWidth":1},"encoding":{"x":{"field":"a","type":"quantitative"},"x2":{"field":"b"},"y":{"field":"y","type":"quantitative"}}},
{"data":{"values":[{"x":83.5,"y":108.3,"t":"25"},{"x":96,"y":2.9,"t":"Relative height"}]},"mark":{"type":"text","fontSize":5,"color":"#555"},"encoding":{"x":{"field":"x","type":"quantitative"},"y":{"field":"y","type":"quantitative"},"text":{"field":"t"}}},
{"data":{"values":[{"x":3.6,"y":11.2,"t":"(b)"}]},"mark":{"type":"text","fontSize":38,"align":"left","baseline":"alphabetic","color":"#111","font":"Liberation Sans"},"encoding":{"x":{"field":"x","type":"quantitative"},"y":{"field":"y","type":"quantitative"},"text":{"field":"t"}}}
]},
{"data":{"values":[{"a":95.2,"b":101.6,"lo":-4.49,"hi":4.49}]},"mark":{"type":"rect","stroke":"#333","strokeWidth":1,"fill":{"gradient":"linear","x1":0,"y1":0,"x2":0,"y2":1,"stops":[{"offset":0,"color":"#ff0000"},{"offset":0.344,"color":"#ffff00"},{"offset":0.645,"color":"#00ff00"},{"offset":1,"color":"#0000e0"}]}},"encoding":{"x":{"field":"a","type":"quantitative"},"x2":{"field":"b"},"y":{"field":"lo","type":"quantitative","scale":{"domain":[-4.49,4.49],"nice":false,"range":[335.7,15.7]},"axis":{"orient":"left","offset":-317,"zindex":1,"domain":false,"ticks":false,"grid":false,"title":null,"labelFontSize":5,"labelPadding":1.5,"labelOverlap":false,"format":".3f","values":[4.49,3.929,3.368,2.806,2.245,1.684,1.123,0.561,0,-0.561,-1.123,-1.684,-2.245,-2.806,-3.368,-3.929,-4.49]}},"y2":{"field":"hi"}}}
]},
{"width":348,"height":390,"layer":[
{"data":{"values":[{"g":-4,"p":0,"q":304},{"g":-3,"p":0,"q":304},{"g":-2,"p":0,"q":304},{"g":-1,"p":0,"q":304},{"g":1,"p":0,"q":304},{"g":2,"p":0,"q":304},{"g":3,"p":0,"q":304},{"g":4,"p":0,"q":304}]},"mark":{"type":"rule","color":"#dedede","strokeDash":[1,2]},"encoding":{"x":{"field":"g","type":"quantitative","scale":{"domain":[-4.47,4.49],"nice":false,"range":[10,348]},"title":"Relative height","axis":{"offset":-79,"grid":false,"labelOverlap":false,"values":[-4,-3.5,-3,-2.5,-2,-1.5,-1,-0.5,0,0.5,1,1.5,2,2.5,3,3.5,4],"labelExpr":"abs(datum.value-round(datum.value))<0.01?''+datum.value:''","tickSize":{"condition":{"test":"abs(datum.value-round(datum.value))<0.01","value":4},"value":2},"domainColor":"#333","domainWidth":1,"labelPadding":2,"titlePadding":6}},"y":{"field":"p","type":"quantitative","scale":{"domain":[0,304],"nice":false,"range":[311,52.7]},"title":"Count","axis":{"offset":-10,"grid":false,"values":[0,40,80,120,160,200,240,280],"tickSize":4,"domainColor":"#888","domainWidth":2,"labelPadding":2,"titlePadding":6}},"y2":{"field":"q"}}},
{"data":{"values":[{"g":40,"p":-4.47,"q":4.49},{"g":80,"p":-4.47,"q":4.49},{"g":120,"p":-4.47,"q":4.49},{"g":160,"p":-4.47,"q":4.49},{"g":200,"p":-4.47,"q":4.49},{"g":240,"p":-4.47,"q":4.49},{"g":280,"p":-4.47,"q":4.49}]},"mark":{"type":"rule","color":"#dedede","strokeDash":[1,2]},"encoding":{"y":{"field":"g","type":"quantitative"},"x":{"field":"p","type":"quantitative"},"x2":{"field":"q"}}},
{"data":{"name":"minb"},"mark":{"type":"tick","orient":"horizontal","color":"#666","size":2,"thickness":1,"xOffset":-2},"encoding":{"y":{"field":"g","type":"quantitative"},"x":{"datum":-4.47,"type":"quantitative"}}},
{"data":{"values":[{"g":0,"p":0,"q":304}]},"mark":{"type":"rule","color":"#ccc"},"encoding":{"x":{"field":"g","type":"quantitative"},"y":{"field":"p","type":"quantitative"},"y2":{"field":"q"}}},
{"data":{"name":"hb"},"mark":{"type":"bar","width":4.7},"encoding":{"x":{"field":"x","type":"quantitative"},"y":{"field":"n","type":"quantitative"},"color":{"field":"x","type":"quantitative","legend":null,"scale":{"interpolate":"rgb","domain":[-4.49,-1.3,1.55,4.49],"range":["#0000e0","#00ff00","#ffff00","#ff0000"]}}}},
{"data":{"name":"gb"},"mark":{"type":"line","color":"#777","strokeWidth":1.6,"interpolate":"monotone"},"encoding":{"x":{"field":"x","type":"quantitative"},"y":{"field":"n","type":"quantitative"}}},
{"data":{"values":[{"x":-0.29,"n":321.6,"t":"Gauss: mean = 0.175295 / std.dev. = 1.199698 [74 classes]"}]},"mark":{"type":"text","fontSize":6.9,"color":"#444"},"encoding":{"x":{"field":"x","type":"quantitative"},"y":{"field":"n","type":"quantitative"},"text":{"field":"t"}}}
]},
{"width":345,"height":365,"resolve":{"scale":{"y":"independent"}},"layer":[
{"layer":[
{"data":{"values":[{"a":20.3,"b":103,"y":2,"y2":109.5}]},"mark":{"type":"rect","color":"#fafafa"},"encoding":{"x":{"field":"a","type":"quantitative","scale":{"domain":[0,103.5],"nice":false},"axis":null},"x2":{"field":"b"},"y":{"field":"y","type":"quantitative","scale":{"domain":[0,109.5],"reverse":true,"nice":false},"axis":null},"y2":{"field":"y2"}}},
{"data":{"name":"mc"},"mark":{"type":"rect","height":7},"encoding":{"x":{"field":"a","type":"quantitative"},"x2":{"field":"b"},"y":{"field":"y","type":"quantitative"},"color":{"field":"v","type":"quantitative","legend":null,"scale":{"interpolate":"rgb","domain":[-4.636,-1.1,2.2,5.846],"range":["#0000e0","#00ff00","#ffff00","#ff0000"]}}}},
{"data":{"name":"holesc"},"mark":{"type":"square","size":13,"color":"#ffffff","opacity":1},"encoding":{"x":{"field":"x","type":"quantitative"},"y":{"field":"y","type":"quantitative"}}},
{"data":{"values":[{"a":73.5,"b":95.8,"y":106.7}]},"mark":{"type":"rule","color":"#666","strokeWidth":0.8},"encoding":{"x":{"field":"a","type":"quantitative"},"x2":{"field":"b"},"y":{"field":"y","type":"quantitative"}}},
{"data":{"values":[{"a":99.8,"y":103.8,"y2":106.8}]},"mark":{"type":"rule","color":"#33bb33","strokeWidth":1},"encoding":{"x":{"field":"a","type":"quantitative"},"y":{"field":"y","type":"quantitative"},"y2":{"field":"y2"}}},
{"data":{"values":[{"a":99.8,"b":102.2,"y":106.8}]},"mark":{"type":"rule","color":"#dd3333","strokeWidth":1},"encoding":{"x":{"field":"a","type":"quantitative"},"x2":{"field":"b"},"y":{"field":"y","type":"quantitative"}}},
{"data":{"values":[{"x":84.5,"y":108.5,"t":"25"},{"x":96.6,"y":3.8,"t":"Relative height"}]},"mark":{"type":"text","fontSize":5,"color":"#555"},"encoding":{"x":{"field":"x","type":"quantitative"},"y":{"field":"y","type":"quantitative"},"text":{"field":"t"}}},
{"data":{"values":[{"x":4.4,"y":12.4,"t":"(c)"}]},"mark":{"type":"text","fontSize":38,"align":"left","baseline":"alphabetic","color":"#111","font":"Liberation Sans"},"encoding":{"x":{"field":"x","type":"quantitative"},"y":{"field":"y","type":"quantitative"},"text":{"field":"t"}}},
{"data":{"values":[{"a":95.8,"b":101.8,"y":91.2,"y2":101}]},"mark":{"type":"rect","stroke":"#333","strokeWidth":1,"fill":"#c8c8c8"},"encoding":{"x":{"field":"a","type":"quantitative"},"x2":{"field":"b"},"y":{"field":"y","type":"quantitative"},"y2":{"field":"y2"}}}
]},
{"data":{"values":[{"a":95.8,"b":101.8,"lo":-4.636,"hi":5.846}]},"mark":{"type":"rect","stroke":"#333","strokeWidth":1,"fill":{"gradient":"linear","x1":0,"y1":0,"x2":0,"y2":1,"stops":[{"offset":0,"color":"#ff0000"},{"offset":0.348,"color":"#ffff00"},{"offset":0.663,"color":"#00ff00"},{"offset":1,"color":"#0000e0"}]}},"encoding":{"x":{"field":"a","type":"quantitative"},"x2":{"field":"b"},"y":{"field":"lo","type":"quantitative","scale":{"domain":[-5.846,5.846],"nice":false,"range":[336.7,19.3]},"axis":{"orient":"left","offset":-319,"zindex":1,"domain":false,"ticks":false,"grid":false,"title":null,"labelFontSize":5,"labelPadding":1.5,"labelOverlap":false,"format":".3f","values":[5.846,5.115,4.384,3.653,3.288,2.923,2.192,1.461,1.096,0.731,0,-0.58,-1.159,-1.739,-2.318,-2.898,-3.477,-4.057,-4.636,-5.241,-5.846]}},"y2":{"field":"hi"}}}
]},
{"width":348,"height":365,"layer":[
{"data":{"values":[{"g":-4.5,"p":0,"q":416},{"g":-3,"p":0,"q":416},{"g":-1.5,"p":0,"q":416},{"g":1.5,"p":0,"q":416},{"g":3,"p":0,"q":416},{"g":4.5,"p":0,"q":416}]},"mark":{"type":"rule","color":"#dedede","strokeDash":[1,2]},"encoding":{"x":{"field":"g","type":"quantitative","scale":{"domain":[-4.6,5.84],"nice":false,"range":[11,338.7]},"title":"Relative height","axis":{"offset":-60,"grid":false,"labelOverlap":false,"values":[-4.5,-3.75,-3,-2.25,-1.5,-0.75,0,0.75,1.5,2.25,3,3.75,4.5,5.25],"labelExpr":"abs(datum.value/1.5-round(datum.value/1.5))<0.01?''+datum.value:''","tickSize":{"condition":{"test":"abs(datum.value/1.5-round(datum.value/1.5))<0.01","value":4},"value":2},"domainColor":"#333","domainWidth":1,"labelPadding":2,"titlePadding":6}},"y":{"field":"p","type":"quantitative","scale":{"domain":[0,416],"nice":false,"range":[305,64.3]},"title":"Count","axis":{"offset":-11,"grid":false,"values":[0,60,120,180,240,300,360],"tickSize":4,"domainColor":"#888","domainWidth":2,"labelPadding":2,"titlePadding":6}},"y2":{"field":"q"}}},
{"data":{"values":[{"g":60,"p":-4.6,"q":5.84},{"g":120,"p":-4.6,"q":5.84},{"g":180,"p":-4.6,"q":5.84},{"g":240,"p":-4.6,"q":5.84},{"g":300,"p":-4.6,"q":5.84},{"g":360,"p":-4.6,"q":5.84}]},"mark":{"type":"rule","color":"#dedede","strokeDash":[1,2]},"encoding":{"y":{"field":"g","type":"quantitative"},"x":{"field":"p","type":"quantitative"},"x2":{"field":"q"}}},
{"data":{"name":"minc"},"mark":{"type":"tick","orient":"horizontal","color":"#666","size":2,"thickness":1,"xOffset":-2},"encoding":{"y":{"field":"g","type":"quantitative"},"x":{"datum":-4.6,"type":"quantitative"}}},
{"data":{"values":[{"g":0,"p":0,"q":416}]},"mark":{"type":"rule","color":"#ccc"},"encoding":{"x":{"field":"g","type":"quantitative"},"y":{"field":"p","type":"quantitative"},"y2":{"field":"q"}}},
{"data":{"name":"hc"},"mark":{"type":"bar","width":4.7},"encoding":{"x":{"field":"x","type":"quantitative"},"y":{"field":"n","type":"quantitative"},"color":{"field":"x","type":"quantitative","legend":null,"scale":{"interpolate":"rgb","domain":[-4.636,-1.1,2.2,5.846],"range":["#0000e0","#00ff00","#ffff00","#ff0000"]}}}},
{"data":{"name":"gc"},"mark":{"type":"line","color":"#777","strokeWidth":1.6,"interpolate":"monotone"},"encoding":{"x":{"field":"x","type":"quantitative"},"y":{"field":"n","type":"quantitative"}}},
{"data":{"values":[{"x":0.23,"n":442,"t":"Gauss: mean = 0.038907 / std.dev. = 0.941701 [73 classes]"}]},"mark":{"type":"text","fontSize":7.7,"color":"#444"},"encoding":{"x":{"field":"x","type":"quantitative"},"y":{"field":"n","type":"quantitative"},"text":{"field":"t"}}}
]}
]}
